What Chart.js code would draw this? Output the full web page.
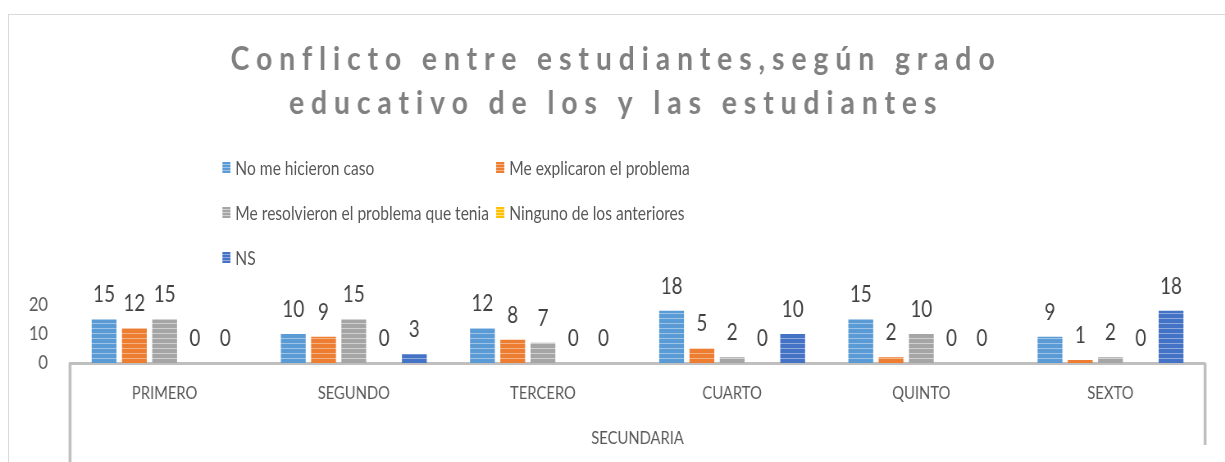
<!DOCTYPE html>
<html><head><meta charset="utf-8">
<script src="https://cdn.jsdelivr.net/npm/chart.js@4.4.1/dist/chart.umd.min.js"></script>
<style>
html,body{margin:0;padding:0;background:#fff;width:1225px;height:462px;overflow:hidden;}
#frame{position:absolute;left:8px;top:14px;width:1240px;height:470px;border:1px solid #d9d9d9;box-sizing:border-box;}
#wrap{position:absolute;left:0;top:0;width:1494px;height:462px;transform:scaleX(0.82);transform-origin:0 0;}
#c{position:absolute;left:0;top:0;}
#legend{position:absolute;left:271px;top:145px;display:grid;grid-template-columns:334px auto;grid-auto-rows:45px;font:19px Lato, sans-serif;color:#595959;}
#legend .it{display:flex;align-items:center;white-space:nowrap;}
#legend .mk{display:inline-block;flex:none;width:10px;height:11px;margin-right:6px;}
</style></head>
<body>
<div id="frame"></div>
<div id="wrap"><canvas id="c" width="1494" height="462"></canvas><div id="legend"></div></div>
<script>
const categories = ['PRIMERO','SEGUNDO','TERCERO','CUARTO','QUINTO','SEXTO'];
const groupLabel = 'SECUNDARIA';
const seriesNames = ['No me hicieron caso','Me explicaron el problema','Me resolvieron el problema que tenia','Ninguno de los anteriores','NS'];
const noHicieronCaso = [15,10,12,18,15,9];
const meExplicaron = [12,9,8,5,2,1];
const meResolvieron = [15,15,7,2,10,2];
const ninguno = [0,0,0,0,0,0];
const nsValues = [0,3,0,10,0,18];
const yTicks = [0,10,20];
const titleLines = ['Conflicto entre estudiantes,según grado','educativo de los y las estudiantes'];

const baseColors = ['#5b9bd5','#ed7d31','#a5a5a5','#ffc000','#4472c4'];
const lightColors = ['#9dc3e6','#f4b183','#d0d0d0','#ffe080','#8faadc'];

const canvas = document.getElementById('c');
const ctx0 = canvas.getContext('2d');
function stripe(base, light){
  const c = document.createElement('canvas'); c.width = 4; c.height = 5;
  const x = c.getContext('2d');
  x.fillStyle = base; x.fillRect(0,0,4,5);
  x.fillStyle = light; x.fillRect(0,3,4,1);
  return ctx0.createPattern(c,'repeat');
}

const allSeries = [noHicieronCaso, meExplicaron, meResolvieron, ninguno, nsValues];
const datasets = allSeries.map((d,i)=>({
  label: seriesNames[i], data: d,
  backgroundColor: stripe(baseColors[i], lightColors[i]),
  borderWidth: 0,
  barPercentage: 0.82, categoryPercentage: 0.8
}));

const FONT = 'Lato, sans-serif';

const extras = {
  id:'extras',
  beforeDraw(chart){
    const tb = chart.titleBlock;
    if (tb && !tb._patched){
      const orig = tb.draw.bind(tb);
      tb.draw = function(){
        const c = chart.ctx; c.save();
        c.letterSpacing = '7.8px';
        const cx = (tb.left + tb.right) / 2 + 16.6;
        c.translate(cx, 0); c.scale(1.08, 1); c.translate(-cx + 16.6, 0);
        orig(); c.restore();
      };
      tb._patched = true;
    }
  },
  afterDatasetsDraw(chart){
    const c = chart.ctx; c.save();
    c.font = '23px ' + FONT; c.fillStyle = '#404040';
    c.textAlign = 'center'; c.textBaseline = 'alphabetic';
    chart.data.datasets.forEach((ds,di)=>{
      const meta = chart.getDatasetMeta(di);
      meta.data.forEach((el,i)=>{ c.fillText(String(ds.data[i]), el.x, el.y - 17); });
    });
    c.restore();
  },
  afterDraw(chart){
    const x = chart.scales.x; const c = chart.ctx; c.save();
    c.strokeStyle = '#bfbfbf'; c.lineWidth = 3.6;
    c.beginPath();
    c.moveTo(x.left, x.top); c.lineTo(x.left, 462);
    c.moveTo(x.right, x.top); c.lineTo(x.right, 445);
    c.stroke(); c.restore();
  }
};

const chart = new Chart(canvas, {
  type:'bar',
  data:{ labels: categories, datasets },
  options:{
    responsive:false, animation:false,
    layout:{ padding:{ left:0, right:24.4, top:0, bottom:0 } },
    plugins:{
      legend:{ display:false },
      tooltip:{ enabled:false },
      title:{ display:true, text:titleLines, color:'#808080',
        font:{ family:FONT, size:32, weight:'bold', lineHeight:1.35 },
        padding:{ top:38.5, bottom:180 } }
    },
    scales:{
      x:{ grid:{ display:false, drawTicks:false }, border:{ display:true, color:'#bfbfbf', width:3 },
        afterFit(s){ s.height = 99; },
        ticks:{ color:'#595959', font:{ family:FONT, size:18 }, padding:19 },
        title:{ display:true, text:groupLabel, color:'#595959', font:{ family:FONT, size:18 }, padding:{ top:24, bottom:13 } } },
      y:{ min:0, max:20, grid:{ display:false, drawTicks:false }, border:{ display:false },
        afterBuildTicks(s){ s.ticks = yTicks.map(v=>({value:v})); },
        afterFit(s){ s.width = 85.4; },
        ticks:{ color:'#595959', font:{ family:FONT, size:20 }, padding:27, autoSkip:false } }
    }
  },
  plugins:[extras]
});

const leg = document.getElementById('legend');
chart.data.datasets.forEach((ds,i)=>{
  const it = document.createElement('div'); it.className = 'it';
  const mk = document.createElement('span'); mk.className = 'mk';
  mk.style.background = `repeating-linear-gradient(to bottom, ${baseColors[i]} 0 2px, ${lightColors[i]} 2px 3px)`;
  it.appendChild(mk);
  it.appendChild(document.createTextNode(ds.label));
  leg.appendChild(it);
});
</script>
</body></html>
